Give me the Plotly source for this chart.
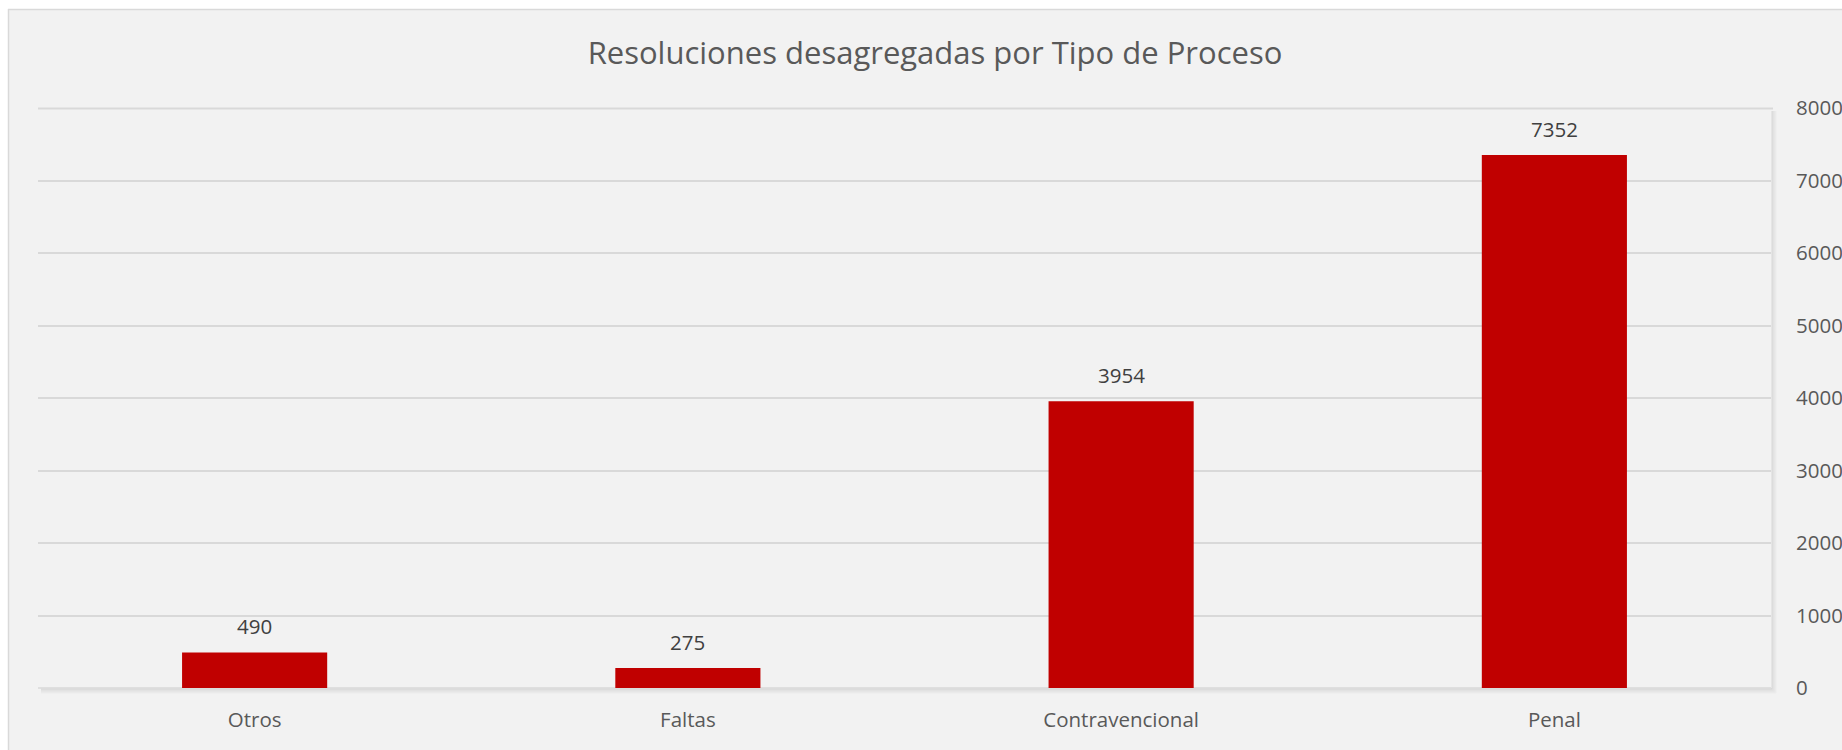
import plotly.graph_objects as go

categories = ["Otros", "Faltas", "Contravencional", "Penal"]
values = [490, 275, 3954, 7352]
tick_vals = [0, 1000, 2000, 3000, 4000, 5000, 6000, 7000, 8000]
title_text = "Resoluciones desagregadas por Tipo de Proceso"

W, H = 1842, 750
ML, MR, MT, MB = 38, 71, 108, 62
PW = W - ML - MR
PH = H - MT - MB
FONT = "Open Sans"
TXT = "#595959"

fig = go.Figure()
fig.add_trace(go.Bar(
    x=categories, y=values, marker=dict(color="#C00000", line=dict(width=0)),
    width=0.335, hoverinfo="skip",
))

for c, v in zip(categories, values):
    fig.add_annotation(x=c, y=v, text=str(v), showarrow=False, yanchor="bottom",
                       yshift=10, font=dict(family=FONT, size=20.5, color="#404040"))

def px_x(p):
    return (p - ML) / PW

def px_y(p):
    return 1 - (p - MT) / PH

shapes = []
# outer white margin + border
shapes.append(dict(type="rect", xref="paper", yref="paper", x0=px_x(-5), x1=px_x(W + 5),
                   y0=px_y(-5), y1=px_y(9), fillcolor="white", line=dict(width=0), layer="below"))
shapes.append(dict(type="rect", xref="paper", yref="paper", x0=px_x(-5), x1=px_x(8),
                   y0=px_y(-5), y1=px_y(H + 5), fillcolor="white", line=dict(width=0), layer="below"))
shapes.append(dict(type="line", xref="paper", yref="paper", x0=px_x(8), x1=px_x(W + 5),
                   y0=px_y(9.5), y1=px_y(9.5), line=dict(color="#d9d9d9", width=1.5), layer="below"))
shapes.append(dict(type="line", xref="paper", yref="paper", x0=px_x(8.5), x1=px_x(8.5),
                   y0=px_y(9), y1=px_y(H + 5), line=dict(color="#d9d9d9", width=1.5), layer="below"))
# soft shadow of plot area (right and bottom)
for i, op in enumerate([0.10, 0.07, 0.05, 0.03, 0.015]):
    off = i + 1
    shapes.append(dict(type="line", xref="paper", yref="paper",
                       x0=px_x(ML + 3), x1=px_x(ML + PW + off),
                       y0=px_y(MT + PH + off), y1=px_y(MT + PH + off),
                       line=dict(color="black", width=1), opacity=op, layer="below"))
    shapes.append(dict(type="line", xref="paper", yref="paper",
                       x0=px_x(ML + PW + off), x1=px_x(ML + PW + off),
                       y0=px_y(MT + 3), y1=px_y(MT + PH + off),
                       line=dict(color="black", width=1), opacity=op, layer="below"))
shapes.append(dict(type="line", xref="paper", yref="paper", x0=0, x1=1, y0=0, y1=0,
                   line=dict(color="#d9d9d9", width=1.5), layer="below"))
# top gridline (8000)
shapes.append(dict(type="line", xref="paper", yref="paper", x0=0, x1=px_x(ML + PW + 2),
                   y0=px_y(MT + 0.5), y1=px_y(MT + 0.5),
                   line=dict(color="#d9d9d9", width=2), layer="above"))

fig.update_layout(
    width=W, height=H,
    margin=dict(l=ML, r=MR, t=MT, b=MB, autoexpand=False),
    paper_bgcolor="#f2f2f2", plot_bgcolor="#f2f2f2",
    showlegend=False,
    title=dict(text=title_text, x=935 / W, xanchor="center", xref="container",
               y=1 - 53 / H, yanchor="middle", yref="container",
               font=dict(family=FONT, size=31, color=TXT)),
    xaxis=dict(showgrid=False, zeroline=False, showline=False, ticks="",
               tickfont=dict(family=FONT, size=20.5, color=TXT), ticklabelstandoff=17),
    yaxis=dict(side="right", range=[0, 8000], tickvals=tick_vals, showgrid=True,
               gridcolor="#d9d9d9", gridwidth=1.5, zeroline=False, showline=False,
               ticks="", tickfont=dict(family=FONT, size=20.5, color=TXT),
               ticklabelstandoff=24),
    shapes=shapes,
    bargap=0.665,
)

fig.write_html("out.html", config={"displayModeBar": False},
               post_script="document.body.style.margin='0';document.body.style.overflow='hidden';")
